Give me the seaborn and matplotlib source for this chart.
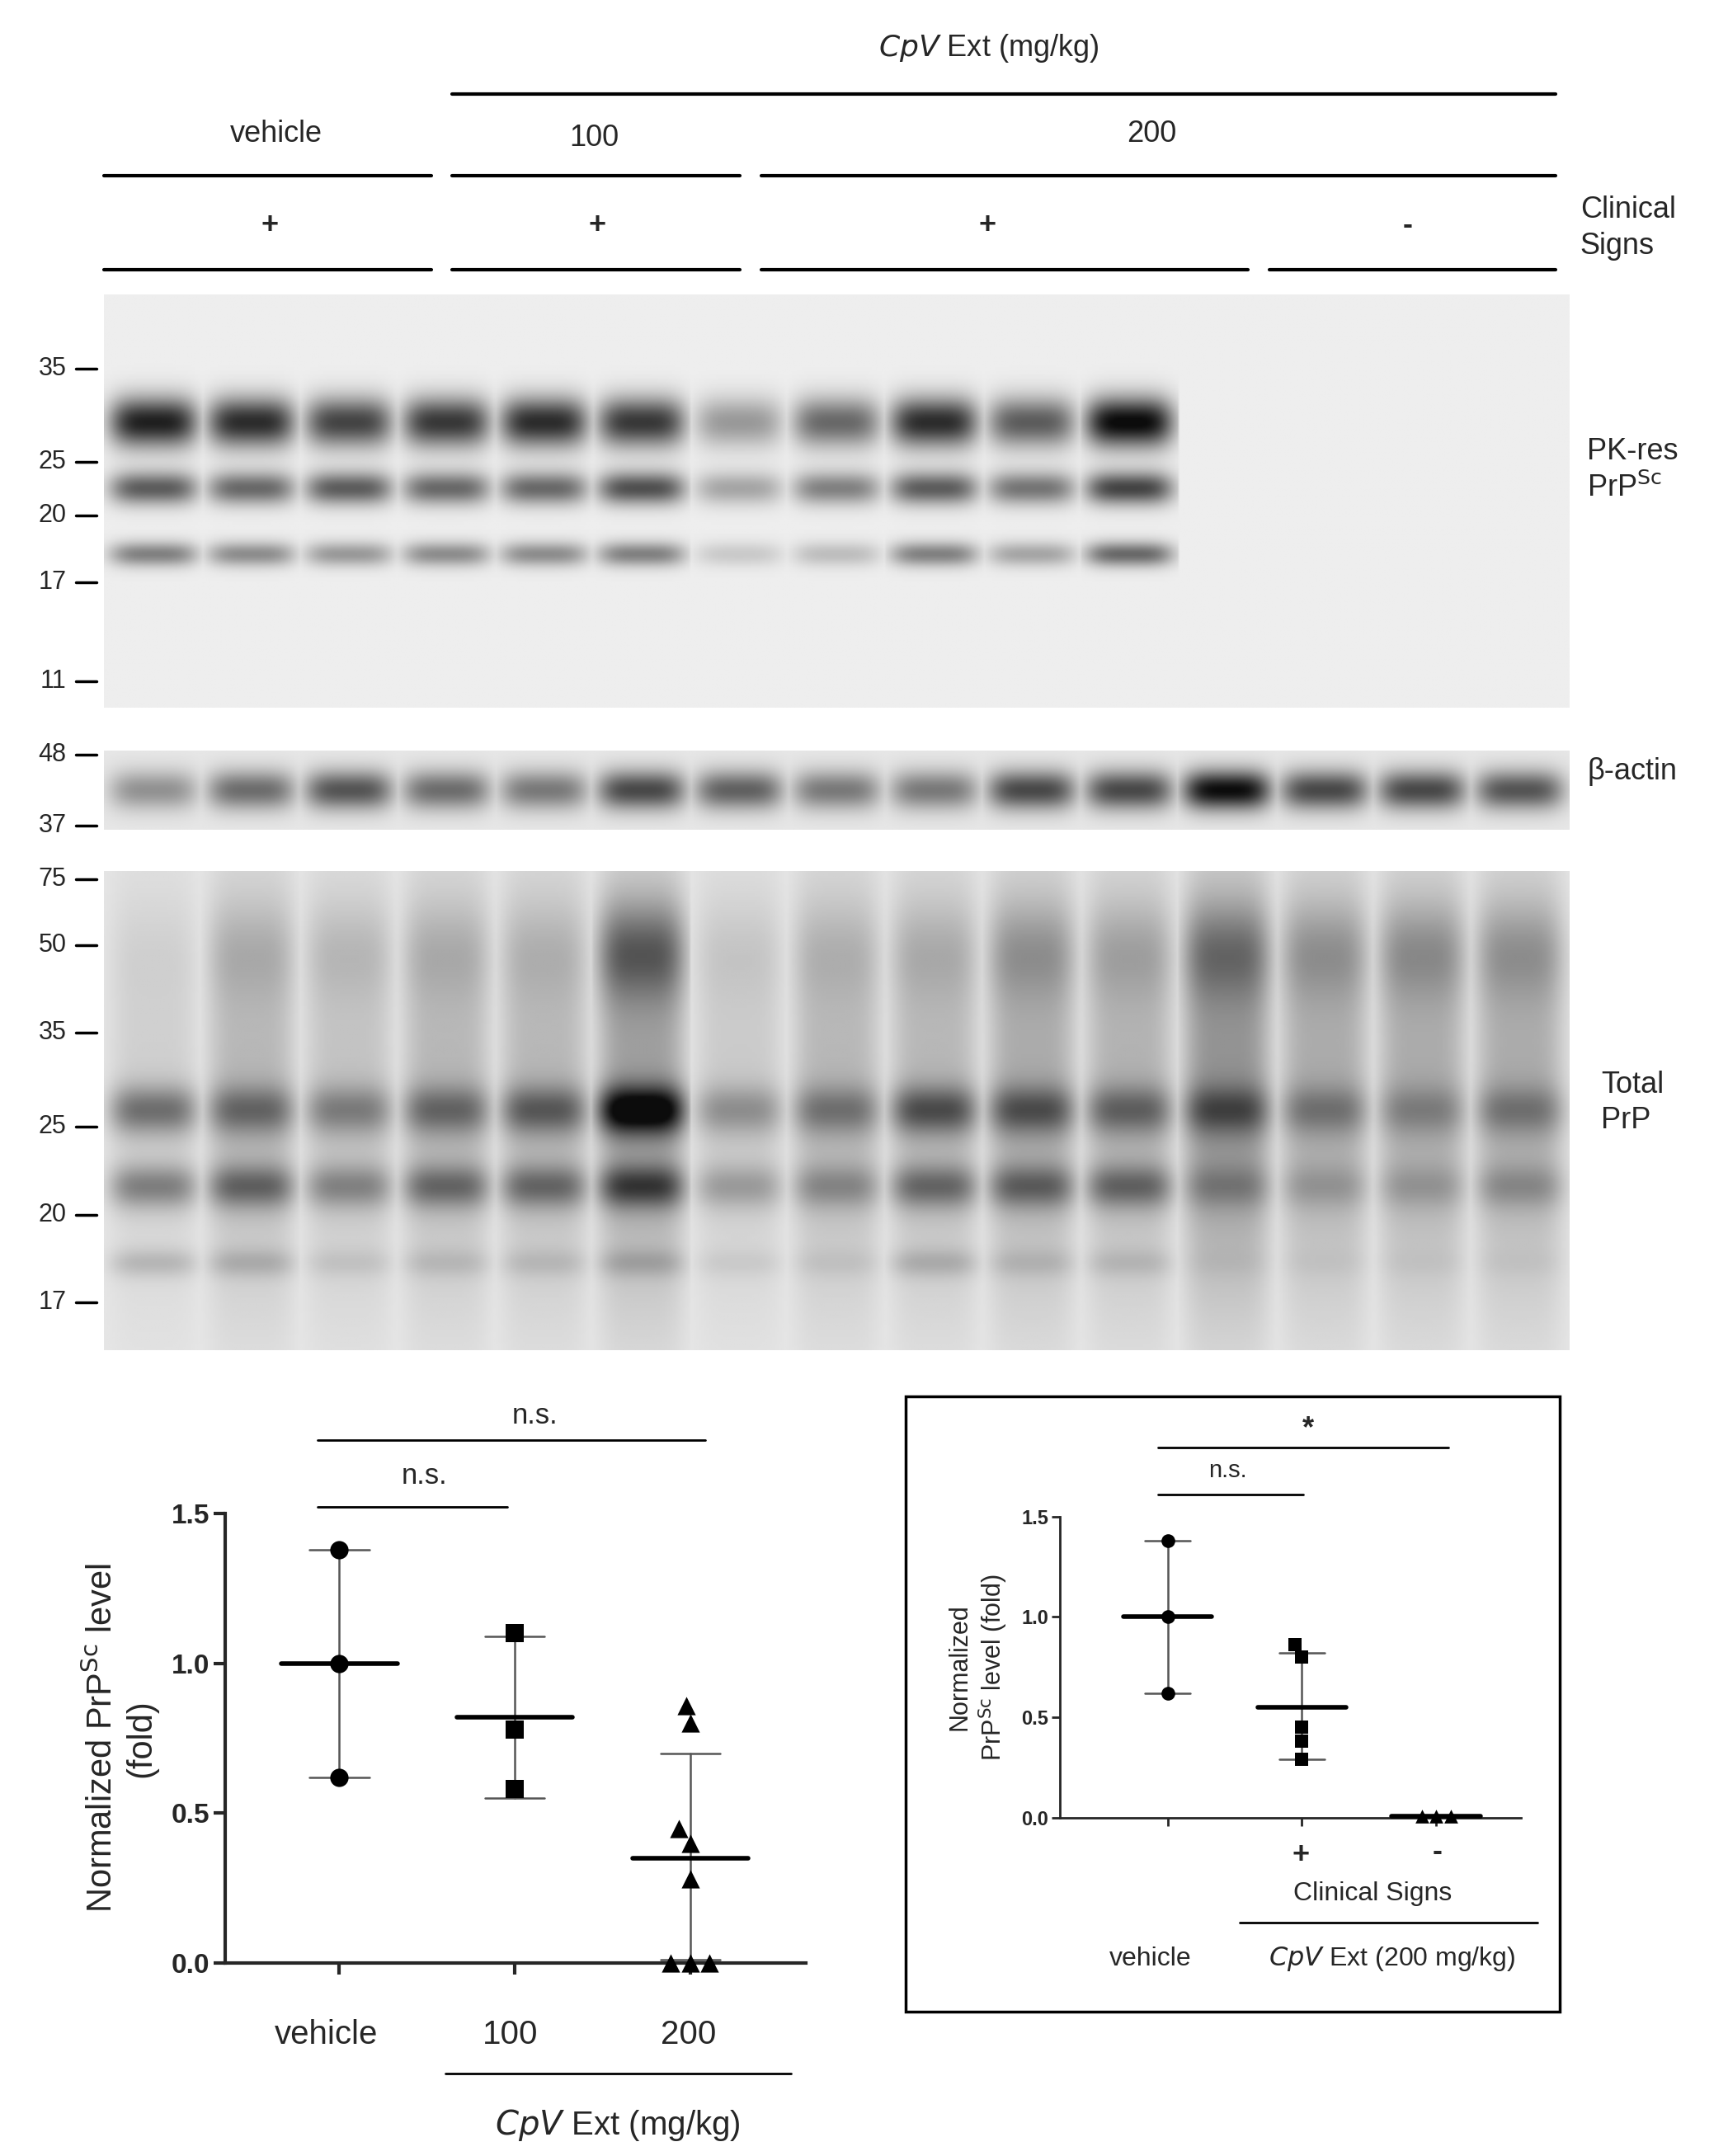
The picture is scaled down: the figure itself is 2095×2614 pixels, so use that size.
import numpy as np
import pandas as pd
import matplotlib
matplotlib.use("Agg")
import matplotlib.pyplot as plt
import seaborn as sns

W, H = 2095, 2614

# ---- blot band intensities (15 lanes) ----
pk_top = [0.85, 0.8, 0.7, 0.75, 0.8, 0.75, 0.35, 0.55, 0.8, 0.6, 0.95, 0, 0, 0, 0]
pk_mid = [0.6, 0.55, 0.6, 0.55, 0.55, 0.65, 0.3, 0.45, 0.6, 0.5, 0.7, 0, 0, 0, 0]
pk_low = [0.45, 0.4, 0.35, 0.4, 0.4, 0.45, 0.15, 0.2, 0.45, 0.3, 0.55, 0, 0, 0, 0]
actin = [0.35, 0.5, 0.6, 0.5, 0.45, 0.65, 0.55, 0.45, 0.45, 0.65, 0.65, 0.9, 0.65, 0.65, 0.6]
tot_smear = [0.1, 0.2, 0.15, 0.2, 0.2, 0.3, 0.12, 0.2, 0.2, 0.25, 0.22, 0.35, 0.25, 0.25, 0.25]
tot_50 = [0.03, 0.12, 0.1, 0.12, 0.1, 0.4, 0.06, 0.1, 0.12, 0.2, 0.15, 0.3, 0.2, 0.22, 0.2]
tot_25 = [0.4, 0.35, 0.3, 0.35, 0.4, 0.8, 0.25, 0.3, 0.45, 0.4, 0.35, 0.35, 0.25, 0.2, 0.25]
tot_20 = [0.35, 0.4, 0.3, 0.38, 0.38, 0.5, 0.22, 0.25, 0.38, 0.38, 0.38, 0.2, 0.15, 0.15, 0.2]
tot_17 = [0.15, 0.15, 0.08, 0.1, 0.1, 0.15, 0.06, 0.06, 0.15, 0.1, 0.1, 0.03, 0.03, 0.03, 0.03]

pk_markers = ["35", "25", "20", "17", "11"]
pk_marker_y = [267, 334, 373, 421, 493]
actin_markers = ["48", "37"]
actin_marker_y = [546, 597]
tot_markers = ["75", "50", "35", "25", "20", "17"]
tot_marker_y = [636, 684, 747, 815, 879, 942]

# ---- quantification ----
main_groups = ["vehicle", "100", "200"]
main_vals = [[1.38, 1.0, 0.62], [1.10, 0.78, 0.58],
             [0.86, 0.80, 0.45, 0.40, 0.28, 0.0, 0.0, 0.0]]
main_mean = [1.0, 0.82, 0.35]
main_err = [(0.62, 1.38), (0.55, 1.09), (0.01, 0.70)]
inset_groups = ["vehicle", "+", "-"]
inset_vals = [[1.38, 1.0, 0.62], [0.86, 0.80, 0.45, 0.38, 0.29], [0.01, 0.01, 0.01]]
inset_mean = [1.0, 0.55, 0.01]
inset_err = [(0.62, 1.38), (0.29, 0.82), (0.01, 0.01)]
markers = ["o", "s", "^"]

sns.set_theme(style="white")
plt.rcParams["font.family"] = ["Liberation Sans", "DejaVu Sans"]
fig = plt.figure(figsize=(W / 100, H / 100), dpi=100)
S = 1.676  # reference display scale


def box(x0, y0, x1, y1):
    return fig.add_axes([x0 * S / W, 1 - y1 * S / H, (x1 - x0) * S / W, (y1 - y0) * S / H])


def ft(x, y, s, **kw):
    kw.setdefault("ha", "center")
    kw.setdefault("va", "center")
    kw.setdefault("fontsize", 26)
    fig.text(x * S / W, 1 - y * S / H, s, **kw)


def fline(x0, x1, y, lw=3):
    fig.add_artist(plt.Line2D([x0 * S / W, x1 * S / W], [1 - y * S / H] * 2, color="black", lw=lw))


def blot(x0, y0, x1, y1, bands, base=0.07):
    ax = box(x0, y0, x1, y1)
    ny, nl = 200, 15
    ys = np.linspace(0, 1, ny)[:, None]
    xs = np.linspace(0, nl, 600)[None, :]
    lane = np.clip(xs.astype(int), 0, nl - 1)
    frac = xs - np.floor(xs)
    shape = np.exp(-((frac - 0.5) / 0.45) ** 4)
    img = np.full((ny, 600), base)
    for vals, pos, sig in bands:
        v = np.asarray(vals)[lane]
        img += v * shape * np.exp(-((ys - pos) / sig) ** 2)
    ax.imshow(np.clip(img, 0, 1), cmap="gray_r", vmin=0, vmax=1.05, aspect="auto",
              interpolation="bilinear")
    ax.set_axis_off()


# header
ft(715, 35, r"$\it{CpV}$ Ext (mg/kg)")
fline(327, 1125, 68)
ft(200, 97, "vehicle")
ft(430, 100, "100")
ft(833, 97, "200")
for a, b in [(75, 312), (327, 535), (551, 1125)]:
    fline(a, b, 127)
for x, s in [(195, "+"), (432, "+"), (714, "+"), (1018, "-")]:
    ft(x, 163, s, fontweight="bold")
for a, b in [(75, 312), (327, 535), (551, 903), (918, 1125)]:
    fline(a, b, 195)
ft(1143, 165, "Clinical\nSigns", ha="left", linespacing=1.3)

# blots
blot(75, 213, 1135, 512, [(pk_top, 0.31, 0.06), (pk_mid, 0.47, 0.04), (pk_low, 0.63, 0.03)])
blot(75, 543, 1135, 600, [(actin, 0.5, 0.25)], base=0.1)
blot(75, 630, 1135, 977, [(tot_smear, 0.45, 0.45), (tot_50, 0.17, 0.1), (tot_25, 0.5, 0.05),
                          (tot_20, 0.66, 0.045), (tot_17, 0.82, 0.03)], base=0.1)
for labs, ys in [(pk_markers, pk_marker_y), (actin_markers, actin_marker_y), (tot_markers, tot_marker_y)]:
    for lab, y in zip(labs, ys):
        ft(48, y, lab, ha="right", fontsize=22)
        fline(55, 70, y, lw=2.5)
ft(1148, 340, "PK-res\nPrP$^{\\mathrm{Sc}}$", ha="left", linespacing=1.3)
ft(1148, 558, "β-actin", ha="left")
ft(1158, 798, "Total\nPrP", ha="left", linespacing=1.3)


def dotplot(ax, groups, vals, means, errs, msize, capw):
    rows = [(g, v) for g, vs in zip(groups, vals) for v in vs]
    df = pd.DataFrame(rows, columns=["group", "value"])
    for g, m in zip(groups, markers):
        sns.swarmplot(data=df[df.group == g], x="group", y="value", order=groups, marker=m,
                      color="black", size=msize, ax=ax, clip_on=False, zorder=3)
    for i, (mn, (lo, hi)) in enumerate(zip(means, errs)):
        ax.plot([i, i], [lo, hi], color="#555555", lw=1.8, zorder=2, clip_on=False)
        for e in (lo, hi):
            ax.plot([i - capw, i + capw], [e, e], color="#555555", lw=1.8, clip_on=False)
        ax.plot([i - 0.33, i + 0.33], [mn, mn], color="black", lw=4, zorder=4, clip_on=False)
    sns.despine(ax=ax)
    ax.set_ylim(0, 1.5)
    ax.set_yticks([0, 0.5, 1.0, 1.5])
    ax.set_xlabel("")
    ax.tick_params(axis="both", direction="out", length=10, width=3, left=True, bottom=True)


# main plot
ax1 = box(163, 1095, 583, 1420)
dotplot(ax1, main_groups, main_vals, main_mean, main_err, 16, 0.17)
ax1.set_xlim(-0.65, 2.66)
ax1.set_xticklabels([])
ax1.set_yticklabels(["0.0", "0.5", "1.0", "1.5"], fontsize=24, fontweight="bold")
ax1.set_ylabel("Normalized PrP$^{\\mathrm{Sc}}$ level\n(fold)", fontsize=30, labelpad=12)
for s in ax1.spines.values():
    s.set_linewidth(3)
for x, s in zip([236, 369, 498], main_groups):
    ft(x, 1472, s, fontsize=29)
fline(322, 572, 1500, lw=2)
ft(447, 1537, r"$\it{CpV}$ Ext (mg/kg)", fontsize=29)
fline(230, 367, 1090, lw=2)
ft(307, 1068, "n.s.", fontsize=25)
fline(230, 510, 1042, lw=2)
ft(387, 1024, "n.s.", fontsize=25)

# inset
fig.add_artist(plt.Rectangle((655 * S / W, 1 - 1455 * S / H), 473 * S / W, 445 * S / H,
                             fill=False, lw=2.5, edgecolor="black"))
ax2 = box(767, 1097, 1100, 1315)
dotplot(ax2, inset_groups, inset_vals, inset_mean, inset_err, 12, 0.17)
ax2.set_xlim(-0.8, 2.63)
ax2.set_xticklabels([])
ax2.set_yticklabels(["0.0", "0.5", "1.0", "1.5"], fontsize=17, fontweight="bold")
ax2.tick_params(length=7, width=2)
ax2.set_ylabel("Normalized\nPrP$^{\\mathrm{Sc}}$ level (fold)", fontsize=22, labelpad=10)
for s in ax2.spines.values():
    s.set_linewidth(2)
ft(941, 1342, "+", fontweight="bold")
ft(1040, 1340, "-", fontweight="bold")
ft(993, 1370, "Clinical Signs", fontsize=23)
fline(897, 1112, 1391, lw=2)
ft(832, 1417, "vehicle", fontsize=23)
ft(1007, 1417, r"$\it{CpV}$ Ext (200 mg/kg)", fontsize=23)
fline(838, 943, 1081, lw=2)
ft(888, 1064, "n.s.", fontsize=21)
fline(838, 1048, 1047, lw=2)
ft(946, 1034, "*", fontsize=26, fontweight="bold")

fig.savefig("out.png", dpi=100, facecolor="white")
